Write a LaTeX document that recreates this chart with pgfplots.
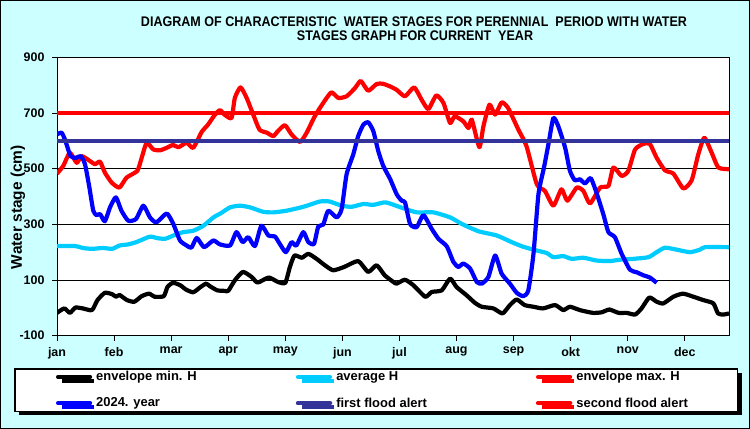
\documentclass[border=0pt]{standalone}
\usepackage{fontspec}
\setmainfont{Liberation Sans}
\newfontfamily\titlefont[FakeStretch=0.9]{Liberation Sans}
\usepackage{pgfplots}
\pgfplotsset{compat=1.18}
\usetikzlibrary{shadows}
\definecolor{bgcyan}{RGB}{204,255,255}
\definecolor{avgblue}{RGB}{0,204,255}
\definecolor{alertblue}{RGB}{51,51,153}

\begin{document}
\begin{tikzpicture}
\fill[bgcyan] (0bp,0bp) rectangle (750bp,429bp);
\draw[black, line width=1bp] (0.5bp,0.5bp) rectangle (749.5bp,428.5bp);
\node[font=\titlefont\bfseries\fontsize{14}{16}\selectfont, anchor=base] at (414bp,402.3bp)
  {DIAGRAM OF CHARACTERISTIC\ \ WATER STAGES FOR PERENNIAL\ \ PERIOD WITH WATER};
\node[font=\titlefont\bfseries\fontsize{14}{16}\selectfont, anchor=base] at (415bp,388bp)
  {STAGES GRAPH FOR CURRENT\ \ YEAR};
\begin{axis}[
  at={(57bp,93.3bp)}, anchor=south west,
  width=672bp, height=278.4bp, scale only axis,
  xmin=0, xmax=365, ymin=-100, ymax=900,
  axis background/.style={fill=white},
  axis line style={line width=1bp, black},
  xtick={0,31,...,341},
  xticklabels={jan,feb,mar,apr,may,jun,jul,aug,sep,okt,nov,dec},
  ytick={-100,100,300,500,700,900},
  yticklabels={-100,100,300,500,700,900},
  xtick pos=bottom, ytick pos=left,
  tick align=outside, major tick length=5bp,
  tick style={black, line width=0.8bp},
  ymajorgrids, grid style={black, line width=0.8bp},
  ticklabel style={font=\bfseries\fontsize{12.5}{14}\selectfont},
  yticklabel style={xshift=-4bp},
  xticklabel style={yshift=-3bp},
  ylabel={Water stage (cm)},
  ylabel style={font=\bfseries\fontsize{15.5}{17}\selectfont, at={(axis description cs:-0.058,0.462)}, anchor=center},
  legend columns=3,
  legend cell align=left,
  legend image code/.code={\draw[#1, line cap=round] (0bp,0bp) -- (32bp,0bp);},
  legend style={at={(-0.0625,-0.1196)}, anchor=north west, draw=black, line width=1.2bp, fill=white,
    inner xsep=41bp, inner ysep=0.5bp, row sep=11.4bp, outer sep=0pt,
    font=\bfseries\fontsize{13}{15}\selectfont,
    drop shadow={shadow xshift=4bp, shadow yshift=-4bp, fill=black, opacity=1},
    /tikz/every odd column/.append style={column sep=2bp}},
  every axis plot/.append style={line join=round, smooth, tension=0.35},
]
\addplot[black, line width=4.2bp] coordinates {
(0,-18) (4,-2) (7,-18) (10,1) (14,-2) (19,-8) (22,28) (26,54) (30,49) (32,40) (34,46) (38,28) (42,22) (46,42) (50,51) (53,40) (58,42) (60,75) (63,90) (67,81) (70,66) (74,56) (78,75) (81,87) (83,78) (87,63) (91,61) (93,61) (96.6,99) (101,129) (105.7,111) (109,91) (115,109) (120,93) (124,90) (126.5,147) (129,188) (133,180) (136.5,194) (141,176) (145.5,153) (150,135) (156,147) (163.6,168) (169,129) (173.6,153) (178,117) (182.7,93) (184.5,87) (189,101) (193.6,81) (200,40) (203.5,57) (209,63) (213.5,105) (217,75) (222.5,45) (227,18) (230.7,4) (237,-2) (242,-20) (246,10) (249.7,30) (254,10) (258.8,4) (264,-2) (270.5,10) (275,-8) (278.6,4) (284,-8) (291,-18) (295.8,-16) (300,-6) (305,-18) (309.4,-18) (314,-24) (317.5,-2) (321.7,37) (325.7,22) (329.3,16) (334.8,40) (340,51) (345.6,40) (351,28) (356.5,16) (359,-20) (362,-24) (365,-20)
};
\addlegendentry{\makebox[197.6bp][l]{envelope min. H}}
\addplot[avgblue, line width=4.2bp] coordinates {
(0,222) (10,222) (14,215) (19,212) (25,215) (30,212) (34,224) (38.7,228) (43,236) (50.5,256) (54,251) (58.7,248) (64,262) (68.6,272) (74,277) (79.5,295) (85,325) (89,340) (94,361) (99.4,367) (104.8,361) (112,345) (117.5,343) (124.7,349) (133.8,363) (142.8,382) (148,382) (154.6,367) (160,363) (166.4,373) (171.8,370) (178,379) (182,372) (188,358) (195.4,343) (204.4,343) (213.5,325) (220,301) (229,275) (238.8,260) (247,236) (253,220) (260.6,206) (266,197) (269.6,182) (275,186) (279.5,176) (285.9,180) (293,170) (300.4,168) (305.8,173) (313,176) (321.2,182) (325.7,200) (330.2,216) (336.6,209) (343.8,200) (349.2,209) (352,218) (365,218)
};
\addlegendentry{\makebox[197.6bp][l]{average H}}
\addplot[red, line width=4.2bp] coordinates {
(0,482) (3.4,510) (7,557) (10.7,521) (13.4,545) (18,527) (20.6,516) (23.4,525) (26,486) (29.7,450) (33.9,432) (37.8,468) (43.6,492) (46,539) (48.7,593) (52.3,569) (56,566) (59.6,575) (63,585) (66,577) (70.4,593) (74,575) (78.6,632) (82,658) (85.8,694) (88.5,710) (91,694) (94.8,682) (96.6,754) (99.7,792) (103,754) (106.6,694) (110,640) (114,629) (117.5,617) (120,635) (123.8,656) (127.4,623) (132,596) (135.6,629) (140,688) (144.6,736) (149,774) (152.8,754) (157.3,760) (161.8,789) (165,815) (169,780) (173.6,804) (177,805) (181,795) (184.5,783) (189,760) (194,792) (198,748) (201.7,714) (206,763) (209.9,736) (213.5,664) (216,688) (220.7,670) (223.5,646) (225.3,676) (229.4,577) (231.6,652) (234.9,730) (238,694) (241.5,738) (245,718) (250.6,640) (255,581) (260.6,444) (265,420) (269.6,367) (274,426) (277.2,385) (282.3,432) (285.9,420) (289.5,375) (295,432) (299.5,438) (302.2,504) (306.7,474) (310.3,492) (314,569) (318.5,589) (322,589) (325.7,539) (330.2,494) (334.8,482) (340.2,429) (344.7,458) (348.3,551) (351.6,611) (355.6,557) (359.2,504) (365,498)
};
\addlegendentry{\makebox[118.4bp][l]{envelope max. H}}
\addplot[blue, line width=4.2bp] coordinates {
(0,623) (2.5,629) (4.3,605) (7.4,545) (10.3,539) (12.9,545) (15.2,516) (17.6,432) (19.7,349) (21.5,333) (23.4,337) (26,311) (28.8,361) (32,397) (35,349) (38.7,313) (42.9,319) (46.9,367) (50.5,325) (54,307) (59.6,339) (63.2,301) (66.8,242) (70.4,224) (73,216) (75.9,251) (79.9,218) (84.9,242) (88.5,228) (94,224) (97.5,272) (100.8,236) (103.9,254) (107.5,222) (111,295) (114.8,260) (118.4,256) (121,230) (124.3,200) (127.4,236) (130,224) (133.8,272) (136.5,236) (139.6,230) (141.9,292) (144.6,299) (147.3,349) (151.9,325) (154.6,355) (157.3,480) (160.9,551) (163.6,617) (166.4,658) (169,667) (171.8,635) (174.5,563) (177.2,510) (181,462) (184.5,408) (187.2,385) (189,379) (191.8,301) (195.4,290) (199,333) (203.5,284) (207.2,248) (211.7,221) (215.3,165) (218,147) (220.7,159) (224.4,141) (228,93) (230.7,87) (234.3,111) (238,188) (241.5,123) (246,87) (249.7,54) (253.3,42) (256,63) (258.8,194) (261.5,408) (264.5,504) (266.9,587) (269.6,682) (272.3,652) (276,575) (278.6,492) (281.3,458) (284,462) (286.8,447) (289.9,466) (293,414) (296.7,337) (299.5,272) (303,254) (306.7,194) (311.2,137) (314.8,128) (318.5,117) (322,109) (325.7,90)
};
\addlegendentry{\makebox[197.6bp][l]{2024. year}}
\addplot[alertblue, line width=4.5bp] coordinates {(0,600) (365,600)};
\addlegendentry{\makebox[197.6bp][l]{first flood alert}}
\addplot[red, line width=4.5bp] coordinates {(0,700) (365,700)};
\addlegendentry{\makebox[118.4bp][l]{second flood alert}}
\end{axis}
\pgfresetboundingbox
\useasboundingbox (0bp,0bp) rectangle (750bp,429bp);
\end{tikzpicture}
\end{document}
